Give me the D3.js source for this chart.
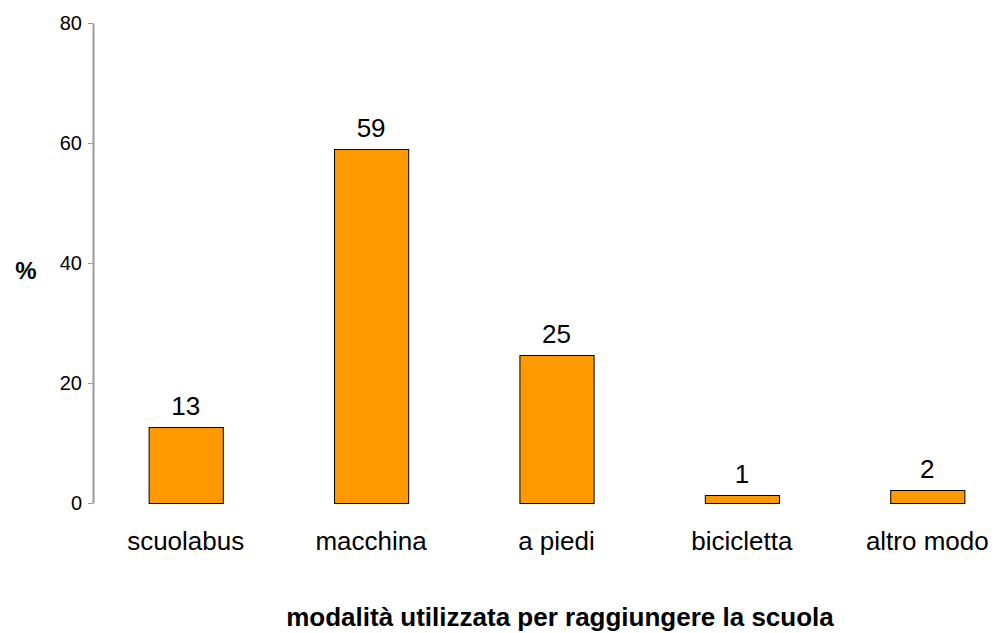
<!doctype html>
<meta charset="utf-8">
<style>
body { margin: 0; background: #fff; }
text { font-family: "Liberation Sans", Arial, sans-serif; fill: #000; }
.bar { fill: #ff9900; stroke: #000; stroke-width: 1px; }
</style>
<html lang="it">
<body>
<script src="https://d3js.org/d3.v7.min.js"></script>
<script>
var categories = ["scuolabus", "macchina", "a piedi", "bicicletta", "altro modo"];
var values = [12.6, 59, 24.6, 1.3, 2.2];
var valueLabels = ["13", "59", "25", "1", "2"];
var yTicks = [0, 20, 40, 60, 80];

var width = 994, height = 633;

var svg = d3.select("body").append("svg")
    .attr("width", width)
    .attr("height", height);

var x = d3.scaleBand()
    .domain(categories)
    .range([93, 1020])
    .paddingInner(0.6)
    .paddingOuter(0.3);

var y = d3.scaleLinear().domain([0, 80]).range([503, 23]);

// y axis
var yAxis = svg.append("g")
    .attr("transform", "translate(93,0)")
    .call(d3.axisLeft(y).tickValues(yTicks).tickSize(5).tickSizeOuter(0).tickPadding(6))
    .attr("font-size", 20)
    .attr("font-family", "Liberation Sans, Arial, sans-serif");
yAxis.select(".domain").attr("stroke", "#9a9a9a").attr("stroke-width", 2);
yAxis.selectAll(".tick line").attr("stroke", "#9a9a9a");
yAxis.selectAll(".tick text").attr("fill", "#000");

// bars
svg.selectAll(".bar")
    .data(values)
  .enter().append("rect")
    .attr("class", "bar")
    .attr("x", function(d, i) { return x(categories[i]) + 0.5; })
    .attr("y", function(d) { return Math.round(y(d)) + 0.5; })
    .attr("width", x.bandwidth())
    .attr("height", function(d) { return y(0) - Math.round(y(d)); });

// value labels
svg.selectAll(".vlabel")
    .data(values)
  .enter().append("text")
    .attr("class", "vlabel")
    .attr("x", function(d, i) { return x(categories[i]) + x.bandwidth() / 2; })
    .attr("y", function(d) { return y(d) - 12; })
    .attr("text-anchor", "middle")
    .style("font-size", "26px")
    .text(function(d, i) { return valueLabels[i]; });

// category labels
svg.selectAll(".clabel")
    .data(categories)
  .enter().append("text")
    .attr("class", "clabel")
    .attr("x", function(d) { return x(d) + x.bandwidth() / 2; })
    .attr("y", 550)
    .attr("text-anchor", "middle")
    .style("font-size", "26px")
    .text(function(d) { return d; });

// axis titles
svg.append("text")
    .attr("x", 26)
    .attr("y", 279)
    .attr("text-anchor", "middle")
    .style("font-size", "24px")
    .style("font-weight", "bold")
    .text("%");

svg.append("text")
    .attr("x", 560)
    .attr("y", 626)
    .attr("text-anchor", "middle")
    .style("font-size", "26px")
    .style("font-weight", "bold")
    .text("modalità utilizzata per raggiungere la scuola");
</script>
</body>
</html>
